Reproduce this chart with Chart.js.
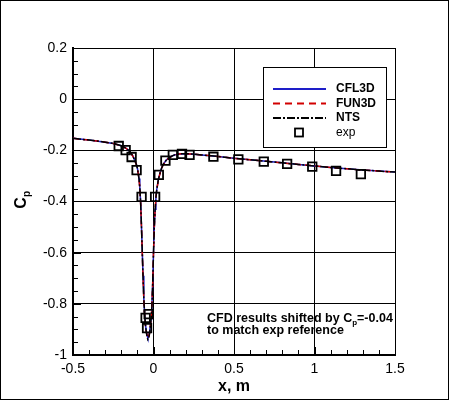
<!DOCTYPE html>
<html>
<head>
<meta charset="utf-8">
<script src="https://cdn.jsdelivr.net/npm/chart.js@4.4.1/dist/chart.umd.min.js"></script>
<style>
  body { margin: 0; background: #fff; }
  canvas { display: block; }
</style>
</head>
<body>
<canvas id="myChart" width="450" height="401"></canvas>
<script>
// CFD surface Cp (already shifted by -0.04)
const cfdX = [-0.5, -0.4, -0.3, -0.25, -0.2, -0.17, -0.15, -0.13, -0.11, -0.1, -0.09, -0.085, -0.08, -0.075, -0.07,
    -0.065, -0.06, -0.055, -0.05, -0.045, -0.04, -0.035, -0.03, -0.025, -0.02, -0.015, -0.01, -0.005, 0, 0.005, 0.01,
    0.015, 0.02, 0.03, 0.04, 0.05, 0.06, 0.08, 0.1, 0.13, 0.16, 0.2, 0.25, 0.3, 0.4, 0.5, 0.6, 0.7, 0.8, 0.9, 1.0,
    1.1, 1.2, 1.3, 1.4, 1.5];
const cfl3dY = [-0.153, -0.160, -0.168, -0.173, -0.182, -0.192, -0.203, -0.220, -0.248, -0.270, -0.310, -0.345, -0.400,
    -0.490, -0.590, -0.690, -0.780, -0.840, -0.880, -0.905, -0.922, -0.933, -0.928, -0.913, -0.888, -0.858, -0.808,
    -0.720, -0.600, -0.500, -0.430, -0.385, -0.355, -0.315, -0.290, -0.270, -0.255, -0.238, -0.227, -0.218, -0.214,
    -0.213, -0.215, -0.218, -0.224, -0.231, -0.237, -0.243, -0.249, -0.255, -0.261, -0.267, -0.272, -0.277, -0.281, -0.285];
const fun3dY = [-0.153, -0.160, -0.168, -0.173, -0.182, -0.192, -0.203, -0.221, -0.249, -0.271, -0.312, -0.348, -0.405,
    -0.495, -0.595, -0.695, -0.785, -0.845, -0.885, -0.908, -0.925, -0.935, -0.930, -0.915, -0.890, -0.860, -0.810,
    -0.722, -0.602, -0.502, -0.432, -0.387, -0.357, -0.316, -0.291, -0.271, -0.256, -0.239, -0.228, -0.218, -0.214,
    -0.213, -0.215, -0.218, -0.224, -0.231, -0.237, -0.243, -0.249, -0.255, -0.261, -0.267, -0.272, -0.277, -0.281, -0.285];
const ntsY = [-0.153, -0.160, -0.168, -0.173, -0.182, -0.192, -0.203, -0.220, -0.248, -0.270, -0.311, -0.346, -0.402,
    -0.492, -0.592, -0.692, -0.782, -0.842, -0.884, -0.910, -0.928, -0.940, -0.935, -0.918, -0.892, -0.860, -0.810,
    -0.720, -0.600, -0.500, -0.430, -0.385, -0.355, -0.315, -0.290, -0.270, -0.255, -0.238, -0.227, -0.218, -0.214,
    -0.213, -0.215, -0.218, -0.224, -0.231, -0.237, -0.243, -0.249, -0.255, -0.261, -0.267, -0.272, -0.277, -0.281, -0.285];

// experiment
const expX = [-0.216, -0.173, -0.136, -0.105, -0.074, -0.049, -0.040, -0.030, 0.010, 0.033, 0.074, 0.12, 0.177, 0.224,
    0.372, 0.527, 0.685, 0.83, 0.986, 1.134, 1.288];
const expY = [-0.183, -0.199, -0.226, -0.277, -0.382, -0.855, -0.895, -0.84, -0.382, -0.296, -0.24, -0.218, -0.214, -0.218,
    -0.225, -0.235, -0.244, -0.253, -0.264, -0.28, -0.293];

const xTicks = [-0.5, 0, 0.5, 1, 1.5];
const yTicks = [0.2, 0, -0.2, -0.4, -0.6, -0.8, -1];

const toXY = (xs, ys) => xs.map((x, i) => ({ x: x, y: ys[i] }));

const FONT = "'Liberation Sans', Arial, sans-serif";

const legendItems = [
    { label: "CFL3D", color: "rgb(30,30,200)", dash: [] },
    { label: "FUN3D", color: "rgb(210,0,0)", dash: [7, 5] },
    { label: "NTS", color: "#000", dash: [8, 2, 2, 2] },
    { label: "exp", square: true },
];

const extras = {
    id: "extras",
    afterDraw(chart) {
        const ctx = chart.ctx;
        const xs = chart.scales.x, ys = chart.scales.y;
        const a = chart.chartArea;
        ctx.save();
        ctx.strokeStyle = "#000";

        // minor ticks
        ctx.lineWidth = 1;
        for (let i = 0; i <= 20; i++) {
            const px = Math.round(xs.getPixelForValue(-0.5 + i * 0.1)) + 0.5;
            const len = i % 5 === 0 ? 8 : 5;
            ctx.beginPath(); ctx.moveTo(px, a.bottom); ctx.lineTo(px, a.bottom - len); ctx.stroke();
        }
        for (let i = 0; i <= 24; i++) {
            const py = Math.round(ys.getPixelForValue(-1 + i * 0.05)) + 0.5;
            const len = i % 4 === 0 ? 8 : 5;
            ctx.beginPath(); ctx.moveTo(a.left, py); ctx.lineTo(a.left + len, py); ctx.stroke();
        }

        // legend box
        ctx.fillStyle = "#fff";
        ctx.fillRect(263, 67, 123, 80);
        ctx.lineWidth = 1;
        ctx.strokeRect(263.5, 67.5, 123, 80);
        ctx.textBaseline = "middle";
        ctx.textAlign = "left";
        legendItems.forEach((it, i) => {
            const y = 89 + i * 14.5;
            if (it.square) {
                ctx.lineWidth = 1.8;
                ctx.strokeStyle = "#000";
                ctx.strokeRect(295, y - 4, 8, 8);
            } else {
                ctx.lineWidth = 2;
                ctx.strokeStyle = it.color;
                ctx.setLineDash(it.dash);
                ctx.beginPath(); ctx.moveTo(273, y); ctx.lineTo(326, y); ctx.stroke();
                ctx.setLineDash([]);
            }
            ctx.fillStyle = "#000";
            ctx.font = (it.square ? "" : "bold ") + "12px " + FONT;
            ctx.fillText(it.label, 336, y);
        });

        // annotation
        ctx.fillStyle = "#000";
        ctx.font = "bold 12.5px " + FONT;
        let tx = 207;
        const line1 = "CFD results shifted by C";
        ctx.fillText(line1, tx, 318.5);
        tx += ctx.measureText(line1).width;
        ctx.font = "bold 8px " + FONT;
        ctx.fillText("p", tx, 322.5);
        tx += ctx.measureText("p").width;
        ctx.font = "bold 12.5px " + FONT;
        ctx.fillText("=-0.04", tx, 318.5);
        ctx.fillText("to match exp reference", 207, 331);

        // axis titles
        ctx.font = "bold 16px " + FONT;
        ctx.textAlign = "center";
        ctx.fillText("x, m", (a.left + a.right) / 2, 387);
        ctx.save();
        ctx.translate(22, 203);
        ctx.rotate(-Math.PI / 2);
        ctx.fillText("C", 0, 0);
        ctx.font = "bold 10px " + FONT;
        ctx.fillText("p", 9, 5);
        ctx.restore();

        // outer frame
        ctx.lineWidth = 1;
        ctx.strokeRect(0.5, 0.5, 448, 399);
        ctx.restore();
    }
};

const data = {
    datasets: [
        {
            label: "exp",
            data: toXY(expX, expY),
            showLine: false,
            pointStyle: "rect",
            pointRadius: 6,
            pointBorderWidth: 1.8,
            pointBorderColor: "#000",
            pointBackgroundColor: "rgba(0,0,0,0)",
            order: 0,
        },
        {
            label: "NTS",
            data: toXY(cfdX, ntsY),
            showLine: true,
            borderColor: "#000",
            borderWidth: 1.5,
            borderDash: [8, 2, 2, 2],
            pointRadius: 0,
            order: 1,
        },
        {
            label: "FUN3D",
            data: toXY(cfdX, fun3dY),
            showLine: true,
            borderColor: "rgb(210,0,0)",
            borderWidth: 1.5,
            borderDash: [6, 4],
            pointRadius: 0,
            order: 2,
        },
        {
            label: "CFL3D",
            data: toXY(cfdX, cfl3dY),
            showLine: true,
            borderColor: "rgb(30,30,200)",
            borderWidth: 1.5,
            pointRadius: 0,
            order: 3,
        },
    ],
};

const config = {
    type: "scatter",
    data: data,
    options: {
        responsive: false,
        animation: false,
        events: [],
        layout: { padding: { top: 48, right: 55, left: 0, bottom: 0 } },
        plugins: { legend: { display: false }, tooltip: { enabled: false } },
        scales: {
            x: {
                type: "linear",
                min: -0.5,
                max: 1.5,
                afterBuildTicks: (s) => { s.ticks = xTicks.map(v => ({ value: v })); },
                afterFit: (s) => { s.height = 46; },
                ticks: {
                    color: "#000",
                    padding: 6,
                    font: { family: FONT, size: 14 },
                    callback: (v) => String(Math.round(v * 10) / 10),
                },
                grid: { color: "#000", lineWidth: 1, drawTicks: false },
                border: { color: "#000", width: 2 },
            },
            y: {
                type: "linear",
                min: -1,
                max: 0.2,
                afterBuildTicks: (s) => { s.ticks = yTicks.map(v => ({ value: v })); },
                afterFit: (s) => { s.width = 73; },
                ticks: {
                    color: "#000",
                    padding: 6,
                    font: { family: FONT, size: 14 },
                    callback: (v) => String(Math.round(v * 10) / 10),
                },
                grid: { color: "#000", lineWidth: 1, drawTicks: false },
                border: { color: "#000", width: 2 },
            },
        },
    },
    plugins: [extras],
};

const myChart = new Chart(document.getElementById("myChart"), config);
</script>
</body>
</html>
